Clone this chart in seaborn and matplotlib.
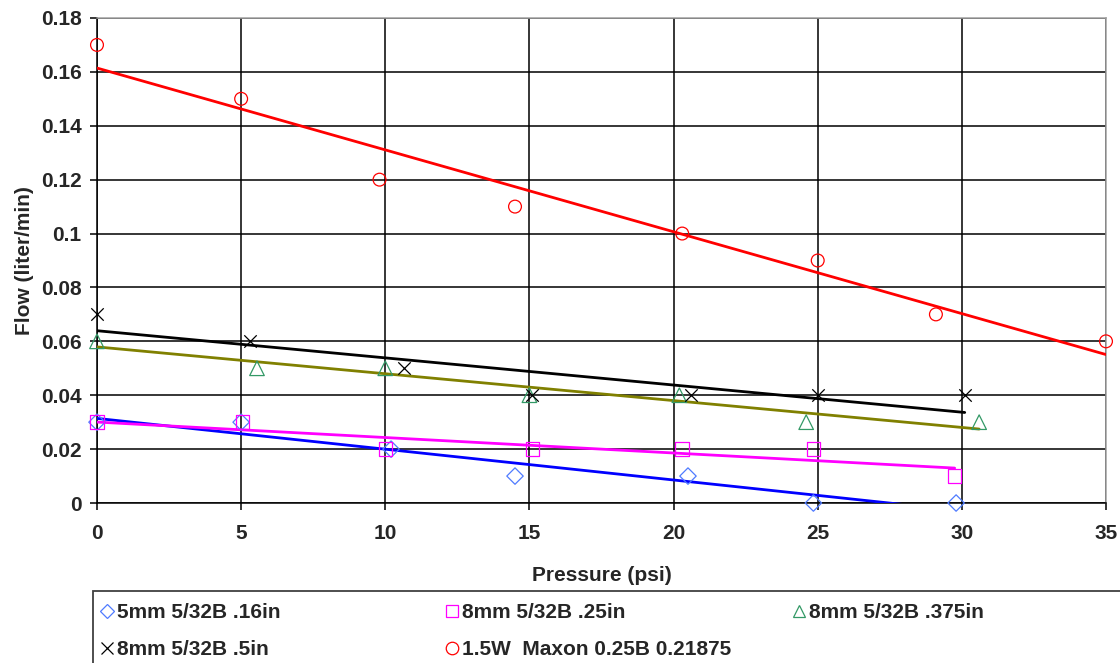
import numpy as np
import pandas as pd
import matplotlib.pyplot as plt
from matplotlib.lines import Line2D
import matplotlib.ticker as mticker
import seaborn as sns

# Data (pressure in psi, flow in liter/min)
labels = ["5mm 5/32B .16in", "8mm 5/32B .25in", "8mm 5/32B .375in",
          "8mm 5/32B .5in", "1.5W  Maxon 0.25B 0.21875"]

p_016 = [0, 5, 10.2, 14.5, 20.5, 24.85, 29.8]
f_016 = [0.03, 0.03, 0.02, 0.01, 0.01, 0.0, 0.0]

p_025 = [0, 5.05, 10, 15.1, 20.3, 24.85, 29.75]
f_025 = [0.03, 0.03, 0.02, 0.02, 0.02, 0.02, 0.01]

p_0375 = [0, 5.55, 10, 15.0, 20.2, 24.6, 30.6]
f_0375 = [0.06, 0.05, 0.05, 0.04, 0.04, 0.03, 0.03]

p_05 = [0, 5.3, 10.65, 15.1, 20.6, 25, 30.1]
f_05 = [0.07, 0.06, 0.05, 0.04, 0.04, 0.04, 0.04]

p_maxon = [0, 5, 9.8, 14.5, 20.3, 25, 29.1, 35]
f_maxon = [0.17, 0.15, 0.12, 0.11, 0.10, 0.09, 0.07, 0.06]

pressures = [p_016, p_025, p_0375, p_05, p_maxon]
flows = [f_016, f_025, f_0375, f_05, f_maxon]

# styles
markers = ["D", "s", "^", "x", "o"]
marker_colors = ["#4F7BFF", "#FF00FF", "#339966", "#000000", "#FF0000"]
line_colors = ["#0000FF", "#FF00FF", "#808000", "#000000", "#FF0000"]
marker_sizes = [70, 95, 110, 80, 85]

sns.set_theme(style="white")
plt.rcParams["font.family"] = ["Liberation Sans", "DejaVu Sans"]

fig = plt.figure(figsize=(11.2, 6.63), dpi=100)
ax = fig.add_axes([0.0866, 0.2413, 0.9009, 0.7316])

for i in range(len(labels)):
    df = pd.DataFrame({"pressure": pressures[i], "flow": flows[i]})
    # linear trendline (least squares) drawn over the data range
    k, b = np.polyfit(df["pressure"], df["flow"], 1)
    xs = np.array([df["pressure"].min(), df["pressure"].max()])
    trend = pd.DataFrame({"pressure": xs, "flow": k * xs + b})
    sns.lineplot(data=trend, x="pressure", y="flow", ax=ax,
                 color=line_colors[i], linewidth=2.0, zorder=3)
for i in range(len(labels)):
    df = pd.DataFrame({"pressure": pressures[i], "flow": flows[i]})
    if markers[i] == "x":
        sns.scatterplot(data=df, x="pressure", y="flow", ax=ax, marker="x",
                        color=marker_colors[i], s=marker_sizes[i],
                        linewidth=0.9, zorder=4, clip_on=False)
    else:
        sns.scatterplot(data=df, x="pressure", y="flow", ax=ax,
                        marker=markers[i], facecolor="none",
                        edgecolor=marker_colors[i], s=marker_sizes[i],
                        linewidth=0.9, zorder=4, clip_on=False)

ax.set_xlim(0, 35)
ax.set_ylim(0, 0.18)
ax.xaxis.set_major_locator(mticker.MultipleLocator(5))
ax.yaxis.set_major_locator(mticker.MultipleLocator(0.02))
ax.yaxis.set_major_formatter(mticker.FuncFormatter(lambda v, _: f"{v:.2f}".rstrip("0").rstrip(".")))
ax.grid(True, color="black", linewidth=1.1)
ax.set_axisbelow(True)

for s in ["left", "bottom"]:
    ax.spines[s].set_color("black")
    ax.spines[s].set_linewidth(1.1)
for s in ["top", "right"]:
    ax.spines[s].set_color("#A0A0A0")
    ax.spines[s].set_linewidth(1.1)

ax.tick_params(axis="both", which="major", direction="out", length=5,
               width=1.1, color="black", labelsize=15, pad=6, bottom=True, left=True)
for lab in ax.get_xticklabels() + ax.get_yticklabels():
    lab.set_fontweight("bold")
ax.xaxis.set_tick_params(pad=10)

ax.set_xlabel("Pressure (psi)", fontsize=15, fontweight="bold", labelpad=17)
ax.set_ylabel("Flow (liter/min)", fontsize=15, fontweight="bold", labelpad=5)

handles = []
for i in range(len(labels)):
    handles.append(Line2D([], [], linestyle="none", marker=markers[i],
                          markersize=9 if markers[i] != "D" else 7,
                          markerfacecolor="none", markeredgecolor=marker_colors[i],
                          color=marker_colors[i], markeredgewidth=0.9,
                          label=labels[i]))

# legend box (runs off the right and bottom edges like the reference)
box_top = (663 - 591) / 663
fig.add_artist(plt.Rectangle((93 / 1120, -0.05), 1.0, box_top + 0.05,
                             transform=fig.transFigure, fill=False,
                             edgecolor="#404040", linewidth=1.3))

# three legend columns, filled row by row
columns = [[0, 3], [1, 4], [2]]
col_x = [97 / 1120, 442 / 1120, 789 / 1120]
for idx, cx in zip(columns, col_x):
    leg = fig.legend(handles=[handles[j] for j in idx], loc="upper left",
                     bbox_to_anchor=(cx, box_top - 0.012), frameon=False,
                     prop={"size": 15, "weight": "bold"}, handlelength=0.6,
                     handletextpad=0.15, borderpad=0.2, labelspacing=0.88,
                     borderaxespad=0)

fig.savefig("out.png", dpi=100)
